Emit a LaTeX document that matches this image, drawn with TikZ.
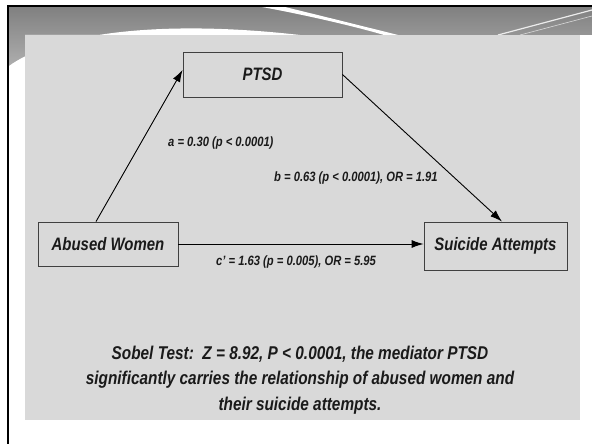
\documentclass[tikz,border=0pt]{standalone}
\usepackage{fontspec}
\setmainfont{Liberation Sans}[FakeStretch=0.83]
\usetikzlibrary{arrows.meta}

\definecolor{panelgray}{HTML}{D9D9D9}
\definecolor{boxline}{HTML}{404040}
\definecolor{inkgray}{HTML}{1A1A1A}

\begin{document}
\begin{tikzpicture}[x=1bp, y=-1bp, font=\bfseries\itshape, text=inkgray,
    varbox/.style={draw=boxline, line width=0.9bp, fill=panelgray, inner sep=0pt,
        font=\fontsize{18bp}{21bp}\bfseries\itshape\selectfont},
    coeff/.style={anchor=west, inner sep=0pt, font=\fontsize{13.5bp}{16bp}\bfseries\itshape\selectfont},
    path/.style={line width=0.9bp, black, -{Latex[length=12bp,width=8bp]}}]
    \useasboundingbox (0,0) rectangle (592,444);

    % Slide header: grey band with white swooshes
    \shade[top color=gray!100, bottom color=gray!60]
        (9,6) -- (592,6) -- (592,35) -- (25,35) -- (25,72) -- (9,72) -- cycle;
    \fill[white] (9,66) .. controls (50,36) and (150,18) .. (300,35) -- (25,35) -- (25,72) -- (9,72) -- cycle;
    \fill[white] (262,7) -- (285,7) .. controls (330,18) and (370,28) .. (398,35)
        -- (384,35) .. controls (350,25) and (300,14) .. cycle;
    \draw[white!85!gray, line width=1.2bp] (498,35) -- (592,10);
    \draw[white!70!gray, line width=0.6bp] (520,35) -- (592,16);

    % Content panel
    \fill[panelgray] (25,35) rectangle (580,420);

    % Outer frame
    \draw[black, line width=2.2bp] (8,444) -- (8,6) -- (592,6);

    % Variables
    \node[varbox, minimum width=159bp, minimum height=45bp] (ptsd) at (262.5,74.5) {PTSD};
    \node[varbox, minimum width=140bp, minimum height=44bp] (abused) at (108,244) {Abused Women};
    \node[varbox, minimum width=143bp, minimum height=48bp] (suicide) at (495.5,246) {Suicide Attempts};

    % Paths of the mediation model
    \draw[path] ([xshift=-12bp]abused.north) -- ([yshift=4.5bp]ptsd.west);
    \draw[path] (ptsd.east) -- ([xshift=6.5bp]suicide.north);
    \draw[path] (abused.east) -- (abused.east -| suicide.west);

    % Coefficients
    \node[coeff] (alabel) at (168,143) {a = 0.30 (p < 0.0001)};
    \node[coeff] (blabel) at (274,178) {b = 0.63 (p < 0.0001), OR = 1.91};
    \node[coeff] (clabel) at (216,262) {c' = 1.63 (p = 0.005), OR = 5.95};

    % Sobel test note
    \node[align=center, inner sep=0pt, font=\fontsize{18.5bp}{25.5bp}\bfseries\itshape\selectfont]
        (sobel) at (300,380) {Sobel Test:\ \ Z = 8.92, P < 0.0001, the mediator PTSD\\
        significantly carries the relationship of abused women and\\
        their suicide attempts.};
\end{tikzpicture}
\end{document}
